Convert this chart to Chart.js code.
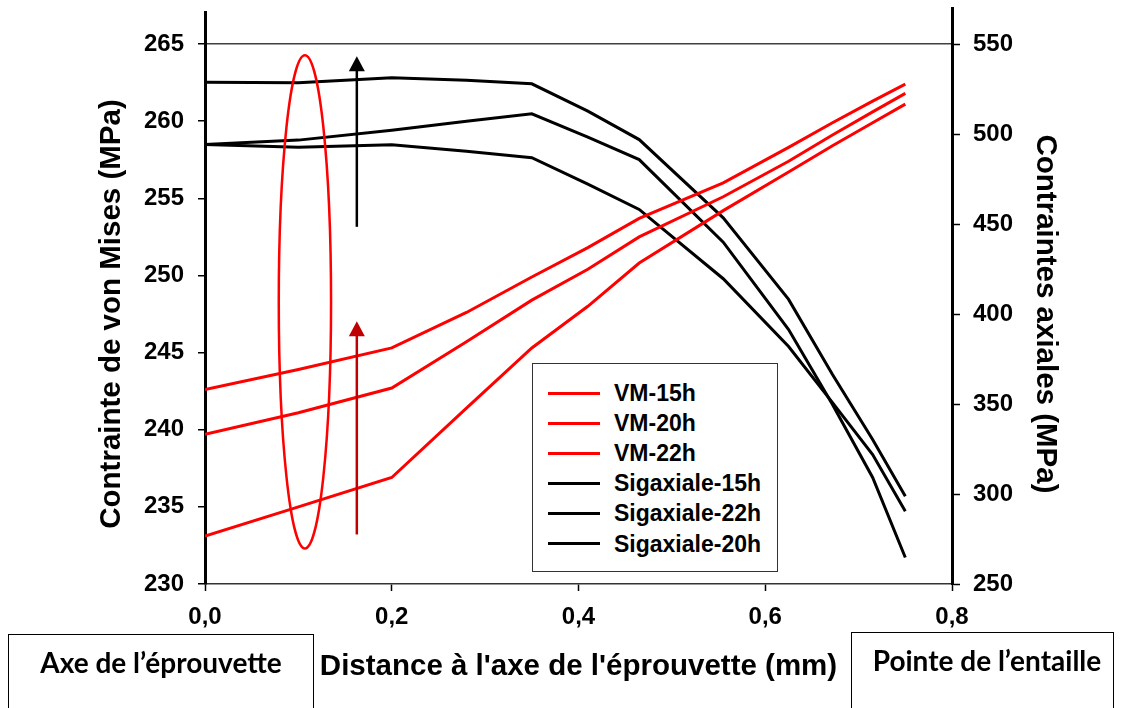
<!DOCTYPE html>
<html lang="fr">
<head>
<meta charset="UTF-8">
<title>Contraintes de von Mises et axiales</title>
<script src="https://cdn.jsdelivr.net/npm/chart.js"></script>
<style>
    body { margin: 0; background: #fff; }
    #wrap { position: relative; width: 1126px; height: 708px; overflow: hidden; }
    #legend {
        position: absolute; left: 532px; top: 363px; width: 244px; height: 207px;
        border: 1.5px solid #333; background: #fff;
        font: bold 23px "Liberation Sans", Arial, sans-serif; color: #000;
    }
    .row { position: absolute; left: 0; height: 30px; line-height: 30px; white-space: nowrap; }
    .row span.swatch { position: absolute; left: 15px; top: 13.5px; width: 52px; height: 3px; }
    .row span.txt { position: absolute; left: 81px; top: 0; }
    .box {
        position: absolute; border: 1.5px solid #000; border-bottom: none; height: 90px;
    }
    .boxtxt {
        position: absolute; font: bold 28px Lato, "Open Sans", sans-serif; color: #000;
        white-space: nowrap; line-height: 30px; transform: translateX(-50%);
    }
</style>
</head>
<body>
<div id="wrap">
    <canvas id="chart" width="1126" height="708"></canvas>
    <div id="legend"></div>
    <div class="box" style="left:8px; top:634px; width:304px;"></div>
    <div class="boxtxt" style="left:161px; top:647px;">Axe de l’éprouvette</div>
    <div class="box" style="left:851px; top:632px; width:261px;"></div>
    <div class="boxtxt" style="left:987px; top:645px;">Pointe de l’entaille</div>
</div>

<script>
    // distance to the specimen axis (mm)
    var distance = [0, 0.1, 0.2, 0.28, 0.35, 0.41, 0.465, 0.555, 0.625, 0.672, 0.715, 0.75];

    // von Mises stress (MPa), left axis
    var vm15 = [233.1, 235.0, 236.9, 241.4, 245.3, 248.0, 250.8, 254.2, 256.7, 258.4, 259.9, 261.1];
    var vm20 = [239.7, 241.1, 242.7, 245.7, 248.4, 250.4, 252.5, 255.1, 257.4, 259.1, 260.6, 261.8];
    var vm22 = [242.6, 243.9, 245.3, 247.6, 249.9, 251.8, 253.7, 256.0, 258.3, 259.9, 261.3, 262.4];

    // axial stress (MPa), right axis
    var sig15 = [494.2, 492.7, 494.0, 490.4, 486.8, 472.2, 458.1, 419.6, 381.9, 350.8, 321.9, 290.4];
    var sig22 = [528.8, 528.5, 531.2, 529.9, 527.9, 512.7, 496.9, 453.4, 408.1, 366.4, 330.3, 298.8];
    var sig20 = [494.2, 496.6, 502.1, 507.1, 511.2, 498.3, 485.8, 439.9, 391.4, 349.7, 309.2, 264.7];

    // annotations (in axis units: x in mm, y in left-axis MPa)
    var ellipseX = 0.107, ellipseHalfWidth = 0.028, ellipseTop = 264.27, ellipseBottom = 232.3;
    var arrowX = 0.1626;
    var blackArrow = [253.15, 264.21];
    var redArrow = [233.21, 247.03];

    function pts(values) {
        return distance.map(function (d, i) { return { x: d, y: values[i] }; });
    }

    function line(label, values, color, axis) {
        return {
            label: label, data: pts(values), borderColor: color, backgroundColor: color,
            borderWidth: 3, pointRadius: 0, tension: 0, fill: false, yAxisID: axis
        };
    }

    function drawArrow(c, x, y0, y1, color) {
        c.strokeStyle = color; c.fillStyle = color; c.lineWidth = 2.5;
        c.beginPath(); c.moveTo(x, y0); c.lineTo(x, y1 + 12); c.stroke();
        c.beginPath(); c.moveTo(x, y1); c.lineTo(x - 8, y1 + 15); c.lineTo(x + 8, y1 + 15); c.closePath(); c.fill();
    }

    var extras = {
        id: 'extras',
        afterDatasetsDraw: function (chart) {
            var c = chart.ctx, a = chart.chartArea, sx = chart.scales.x, sy = chart.scales.y;
            c.save();
            // axis lines run above the plot
            c.strokeStyle = '#000'; c.lineWidth = 3;
            c.beginPath();
            c.moveTo(Math.round(a.left) + 0.5, 11); c.lineTo(Math.round(a.left) + 0.5, a.top);
            c.moveTo(Math.round(a.right) + 0.5, 7); c.lineTo(Math.round(a.right) + 0.5, a.top);
            c.stroke();
            // ellipse
            var cx = sx.getPixelForValue(ellipseX);
            var rx = sx.getPixelForValue(ellipseX + ellipseHalfWidth) - cx;
            var t = sy.getPixelForValue(ellipseTop), b = sy.getPixelForValue(ellipseBottom);
            c.strokeStyle = '#ff0000'; c.lineWidth = 2.5;
            c.beginPath(); c.ellipse(cx, (t + b) / 2, rx, (b - t) / 2, 0, 0, Math.PI * 2); c.stroke();
            // arrows
            var ax = sx.getPixelForValue(arrowX);
            drawArrow(c, ax, sy.getPixelForValue(blackArrow[0]), sy.getPixelForValue(blackArrow[1]), '#000');
            drawArrow(c, ax, sy.getPixelForValue(redArrow[0]), sy.getPixelForValue(redArrow[1]), '#c00000');
            c.restore();
        }
    };

    var tickFont = { family: '"Liberation Sans", Arial, sans-serif', size: 24, weight: 'bold' };
    var titleFont = { family: '"Liberation Sans", Arial, sans-serif', size: 29.5, weight: 'bold' };

    var chart = new Chart(document.getElementById('chart'), {
        type: 'line',
        data: {
            datasets: [
                line('VM-15h', vm15, '#ff0000', 'y'),
                line('VM-20h', vm20, '#ff0000', 'y'),
                line('VM-22h', vm22, '#ff0000', 'y'),
                line('Sigaxiale-15h', sig15, '#000000', 'y2'),
                line('Sigaxiale-22h', sig22, '#000000', 'y2'),
                line('Sigaxiale-20h', sig20, '#000000', 'y2')
            ]
        },
        options: {
            responsive: false,
            animation: false,
            devicePixelRatio: 1,
            layout: { padding: { top: 44, left: 0, right: 0, bottom: 0 } },
            plugins: { legend: { display: false }, tooltip: { enabled: false } },
            scales: {
                x: {
                    type: 'linear', min: 0, max: 0.8,
                    afterFit: function (s) { s.height = 124; },
                    ticks: {
                        stepSize: 0.2, color: '#000', font: tickFont, padding: 12, maxRotation: 0,
                        callback: function (v) { return v.toFixed(1).replace('.', ','); }
                    },
                    grid: { drawOnChartArea: false, tickLength: 7, tickColor: '#000', tickWidth: 1.5 },
                    border: { color: '#333', width: 1.5 },
                    title: {
                        display: true, text: "Distance à l'axe de l'éprouvette (mm)",
                        color: '#000', font: titleFont, padding: { top: 0, bottom: 23 }
                    }
                },
                y: {
                    position: 'left', min: 230, max: 265,
                    afterFit: function (s) { s.width = 205; },
                    ticks: { stepSize: 5, color: '#000', font: tickFont, padding: 14 },
                    grid: {
                        color: function (ctx) { return ctx.tick && ctx.tick.value === 265 ? '#404040' : 'rgba(0,0,0,0)'; },
                        lineWidth: 1.5, tickLength: 7, tickColor: '#000', tickWidth: 1.5
                    },
                    border: { color: '#000', width: 3 },
                    title: {
                        display: true, text: 'Contrainte de von Mises (MPa)',
                        color: '#000', font: titleFont, padding: { top: 94, bottom: 0 }
                    }
                },
                y2: {
                    position: 'right', min: 250, max: 550,
                    afterFit: function (s) { s.width = 174; },
                    ticks: { stepSize: 50, color: '#000', font: tickFont, padding: 13 },
                    grid: { drawOnChartArea: false, tickLength: 8, tickColor: '#000', tickWidth: 1.5 },
                    border: { color: '#000', width: 3 },
                    title: {
                        display: true, text: 'Contraintes axiales (MPa)',
                        color: '#000', font: titleFont, padding: { top: 63, bottom: 0 }
                    }
                }
            }
        },
        plugins: [extras]
    });

    // legend box inside the plot
    var legend = document.getElementById('legend');
    chart.data.datasets.forEach(function (ds, i) {
        var row = document.createElement('div');
        row.className = 'row';
        row.style.top = (14 + i * 30.1) + 'px';
        row.innerHTML = '<span class="swatch" style="background:' + ds.borderColor + '"></span>' +
            '<span class="txt">' + ds.label + '</span>';
        legend.appendChild(row);
    });
</script>
</body>
</html>
